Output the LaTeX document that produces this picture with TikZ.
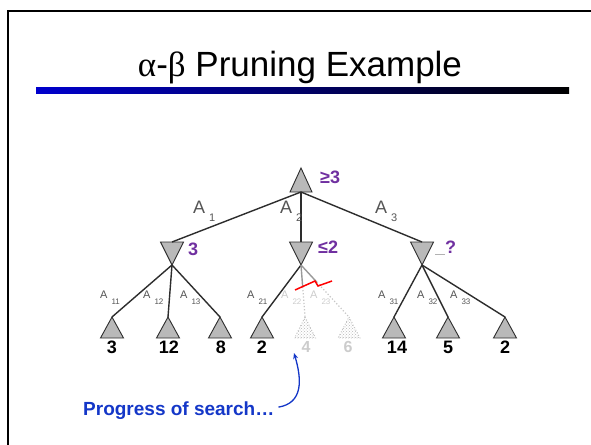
\documentclass[tikz,border=0pt]{standalone}
\usepackage{fontspec}
\setmainfont{Liberation Sans}
\newfontfamily\symfont{Liberation Serif}
\usetikzlibrary{calc,patterns,arrows.meta}
\definecolor{purp}{RGB}{112,48,160}
\definecolor{bluetxt}{RGB}{20,55,200}
\definecolor{labgray}{RGB}{85,85,85}
\definecolor{trifill}{RGB}{185,185,185}
\definecolor{edgecol}{RGB}{45,45,45}
\definecolor{barblue}{RGB}{0,0,205}
% max node: name, x, apex y, half width, height
\newcommand\maxnode[6][tri]{%
  \coordinate (#2) at (#3,#4);
  \coordinate (#2b) at (#3,#4+#6);
  \filldraw[#1] (#2) -- ++(#5,#6) -- ++(-2*#5,0) -- cycle;}
% min node: name, x, top y, half width, height
\newcommand\minnode[5]{%
  \coordinate (#1t) at (#2,#3);
  \coordinate (#1) at (#2,#3+#5);
  \filldraw[tri] (#2-#4,#3) -- (#2+#4,#3) -- (#1) -- cycle;}
% edge label: name, x, baseline y, subscript, style
\newcommand\elab[5]{%
  \node[#5] (#1) at (#2,#3) {A\kern4pt\raisebox{-6pt}{\fontsize{8}{8}\selectfont #4}};}
\newcommand\elabbig[4]{%
  \node[biglab] (#1) at (#2,#3) {A\kern4pt\raisebox{-8pt}{\fontsize{11}{11}\selectfont #4}};}
\begin{document}
\begin{tikzpicture}[x=1pt,y=-1pt,
  tri/.style={fill=trifill,draw=edgecol,line width=0.9pt,line join=miter},
  ghosttri/.style={pattern=crosshatch dots,pattern color=gray!55,draw=gray!50,line width=0.9pt,dotted},
  edge/.style={draw=edgecol,line width=1.4pt},
  cutedge/.style={draw=gray!80,line width=1.4pt},
  ghostedge/.style={draw=gray!45,line width=1.2pt,dotted},
  smalllab/.style={anchor=base west,inner sep=0pt,text=labgray,font=\fontsize{11}{11}\selectfont},
  ghostlab/.style={anchor=base west,inner sep=0pt,text=gray!40,font=\fontsize{11}{11}\selectfont},
  biglab/.style={anchor=base west,inner sep=0pt,text=labgray,font=\fontsize{18}{18}\selectfont},
  val/.style={anchor=base,inner sep=0pt,font=\bfseries\fontsize{18}{18}\selectfont},
  pval/.style={anchor=base west,inner sep=0pt,text=purp,font=\bfseries\fontsize{18}{18}\selectfont},
  gval/.style={anchor=base,inner sep=0pt,text=gray!40,font=\bfseries\fontsize{16}{16}\selectfont}]
\useasboundingbox (0,0) rectangle (591,444);
\fill[white] (0,0) rectangle (591,444);
% slide frame
\draw[line width=2pt] (8,450) -- (8,11) -- (600,11);
% title
\node[anchor=base,inner sep=0pt,font=\fontsize{35}{42}\selectfont] (title) at (300,76)
  {{\symfont α}-{\symfont β} Pruning Example};
\shade[left color=barblue,right color=black] (36,87) rectangle (569,93);
% tree nodes
\maxnode{root}{301}{168}{11}{24}
\minnode{m1}{172}{242}{11.5}{23}
\minnode{m2}{301}{242}{11.5}{23}
\minnode{m3}{422}{242}{11.5}{23}
\maxnode{l11}{112}{317}{11.5}{21}
\maxnode{l12}{168}{317}{11.5}{21}
\maxnode{l13}{220}{317}{11.5}{21}
\maxnode{l21}{262}{317}{11.5}{21}
\maxnode[ghosttri]{g22}{305}{317}{10.5}{21}
\maxnode[ghosttri]{g23}{349}{317}{11}{21}
\maxnode{l31}{394}{317}{11.5}{21}
\maxnode{l32}{448}{317}{11.5}{21}
\maxnode{l33}{505}{317}{11.5}{21}
% edges
\draw[edge] (rootb) -- (m1t);
\draw[edge] (rootb) -- (m2t);
\draw[edge] (rootb) -- (m3t);
\draw[edge] (m1) -- (l11);
\draw[edge] (m1) -- (l12);
\draw[edge] (m1) -- (l13);
\draw[edge] (m2) -- (l21);
\draw[cutedge] (m2) -- ($(m2)!0.42!(g22)$) coordinate (c22);
\draw[cutedge] (m2) -- ($(m2)!0.33!(g23)$) coordinate (c23);
\draw[ghostedge] (c22) -- (g22);
\draw[ghostedge] (c23) -- (g23);
\draw[edge] (m3) -- (l31);
\draw[edge] (m3) -- (l32);
\draw[edge] (m3) -- (l33);
% cut mark
\draw[red,line width=1.5pt] (295,290) -- (315,281) -- (318,286) -- (332,281);
% edge labels
\elabbig{a1}{193}{213}{1}
\elabbig{a2}{280}{213}{2}
\elabbig{a3}{375}{213}{3}
\elab{a11}{100}{298}{11}{smalllab}
\elab{a12}{143}{298}{12}{smalllab}
\elab{a13}{180}{298}{13}{smalllab}
\elab{a21}{247}{298}{21}{smalllab}
\elab{a22}{281}{298}{22}{ghostlab}
\elab{a23}{310}{298}{23}{ghostlab}
\elab{a31}{378}{298}{31}{smalllab}
\elab{a32}{417}{298}{32}{smalllab}
\elab{a33}{450}{298}{33}{smalllab}
% values
\node[pval] (vroot) at (320,183) {≥3};
\node[pval] (vm1) at (188,255) {3};
\node[pval] (vm2) at (318,253) {≤2};
\node[pval] (vm3) at (445,253) {?};
\draw[gray!60,line width=0.8pt] (435,254) -- (445,254);
\node[val] (v11) at (112,353) {3};
\node[val] (v12) at (169,353) {12};
\node[val] (v13) at (221,353) {8};
\node[val] (v21) at (262,353) {2};
\node[gval] (v22) at (306,352) {4};
\node[gval] (v23) at (348,352) {6};
\node[val] (v31) at (397,353) {14};
\node[val] (v32) at (448,353) {5};
\node[val] (v33) at (505,353) {2};
% progress annotation
\node[anchor=base west,inner sep=0pt,text=bluetxt,font=\bfseries\fontsize{19}{19}\selectfont] (prog) at (83,415) {Progress of search…};
\coordinate (tip) at (294,353);
\draw[bluetxt,line width=1.3pt,-{Stealth[length=6pt,width=5pt]}]
  ([shift={(4pt,3pt)}]prog.east) .. controls (303,403) and (302,380) .. (tip);
\end{tikzpicture}
\end{document}
